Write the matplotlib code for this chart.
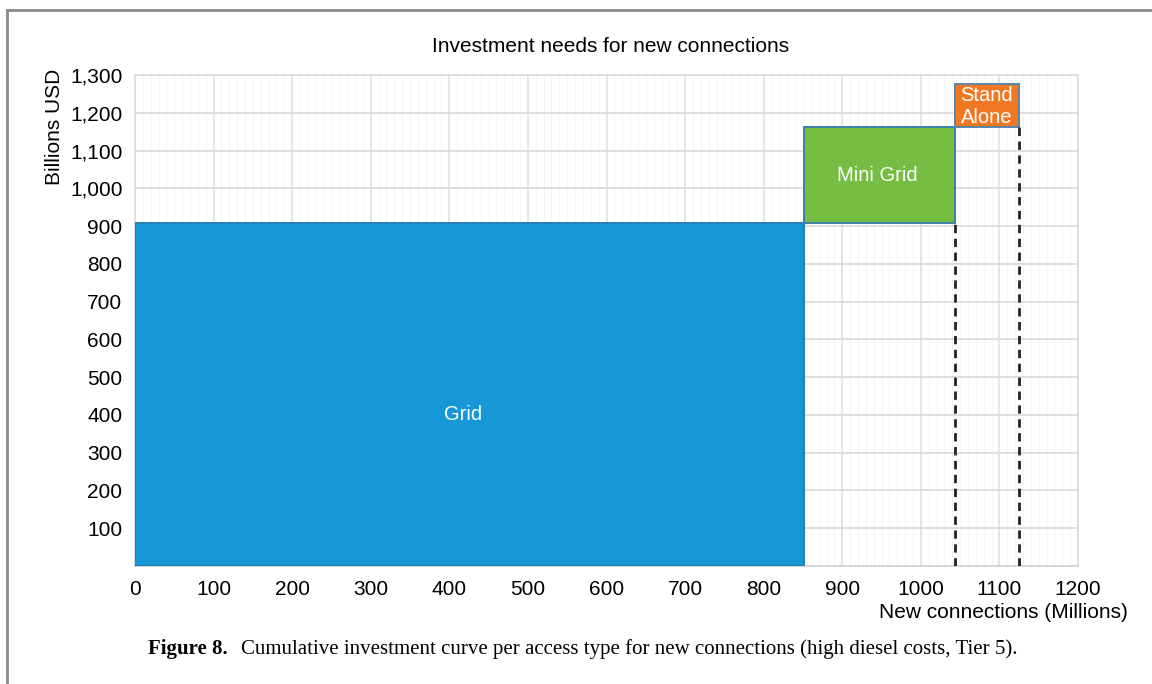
import matplotlib
matplotlib.use("Agg")
import matplotlib.pyplot as plt
from matplotlib.lines import Line2D
import numpy as np

# access types and their step rectangles (connections in millions, investment in billions USD)
access_types = ["Grid", "Mini Grid", "Stand Alone"]
conn_start = [0, 851, 1043]
conn_end = [851, 1043, 1125]
inv_start = [0, 909, 1162]
inv_end = [909, 1162, 1276]

colors = ["#1598d5", "#76bd43", "#f07822"]
edge_colors = ["#2a7cb4", "#3b82a8", "#5b86a8"]

x_ticks = list(range(0, 1300, 100))
y_ticks = list(range(100, 1400, 100))

plt.rcParams["font.family"] = ["Liberation Sans", "DejaVu Sans"]

W, H = 1152, 684
fig = plt.figure(figsize=(W / 100, H / 100), dpi=100)
ax = fig.add_axes([135 / W, 1 - 566 / H, 943 / W, 491 / H])

widths = np.array(conn_end) - np.array(conn_start)
heights = np.array(inv_end) - np.array(inv_start)
ax.bar(conn_start, heights, width=widths, bottom=inv_start, align="edge",
       color=colors, edgecolor=edge_colors, linewidth=1.4, zorder=3)

# dashed drop lines at the right edge of mini grid and stand alone
for i in (1, 2):
    ax.plot([conn_end[i], conn_end[i]], [0, inv_start[i]], color="#222222",
            linestyle=(0, (3, 2)), linewidth=2, zorder=4)

# labels inside the rectangles
label_pos = [(418, 400), (944, 1035), (1084, 1217)]
label_txt = ["Grid", "Mini Grid", "Stand\nAlone"]
for (lx, ly), t in zip(label_pos, label_txt):
    ax.text(lx, ly, t, color="white", fontsize=14.5, ha="center", va="center",
            linespacing=1.2, zorder=5)

ax.set_xlim(0, 1200)
ax.set_ylim(0, 1300)
ax.set_xticks(x_ticks)
ax.set_xticklabels([str(v) for v in x_ticks])
ax.set_yticks(y_ticks)
ax.set_yticklabels([f"{v:,}" for v in y_ticks])
ax.set_xticks(np.arange(0, 1201, 10), minor=True)
ax.tick_params(axis="both", which="both", length=0, labelsize=15, colors="black")
ax.tick_params(axis="x", pad=10)
ax.tick_params(axis="y", pad=9)

ax.set_axisbelow(True)
ax.grid(axis="x", which="major", color="#dae1e8", linewidth=1.2)
ax.grid(axis="y", which="major", color="#d9d9d9", linewidth=1.2)
ax.grid(axis="x", which="minor", color="#f5f5f5", linewidth=0.8)
for s in ax.spines.values():
    s.set_color("#dddddd")
    s.set_linewidth(1.2)
ax.spines["bottom"].set_color("#cfcfcf")

fig.text(611 / W, 1 - 47 / H, "Investment needs for new connections", fontsize=15,
         ha="center", va="center")
fig.text(55 / W, 1 - 127 / H, "Billions USD", fontsize=15, rotation=90,
         ha="center", va="center")
fig.text(1128 / W, 1 - 612 / H, "New connections (Millions)", fontsize=15,
         ha="right", va="center")

# frame around the figure
fig.add_artist(Line2D([7 / W, 1], [1 - 10 / H, 1 - 10 / H], color="#8a8a8a",
                      linewidth=2, transform=fig.transFigure))
fig.add_artist(Line2D([7 / W, 7 / W], [0, 1 - 10 / H], color="#8a8a8a",
                      linewidth=2, transform=fig.transFigure))

# caption
serif = ["Liberation Serif", "DejaVu Serif"]
cap_y = 1 - 649 / H
t1 = fig.text(148 / W, cap_y, "Figure 8.", fontsize=15, fontweight="bold",
              family=serif, ha="left", va="center")
fig.canvas.draw()
bb = t1.get_window_extent()
fig.text((bb.x1 + 13) / W, cap_y,
         "Cumulative investment curve per access type for new connections (high diesel costs, Tier 5).",
         fontsize=15, family=serif, ha="left", va="center")

fig.savefig("out.png", dpi=100, facecolor="white")
